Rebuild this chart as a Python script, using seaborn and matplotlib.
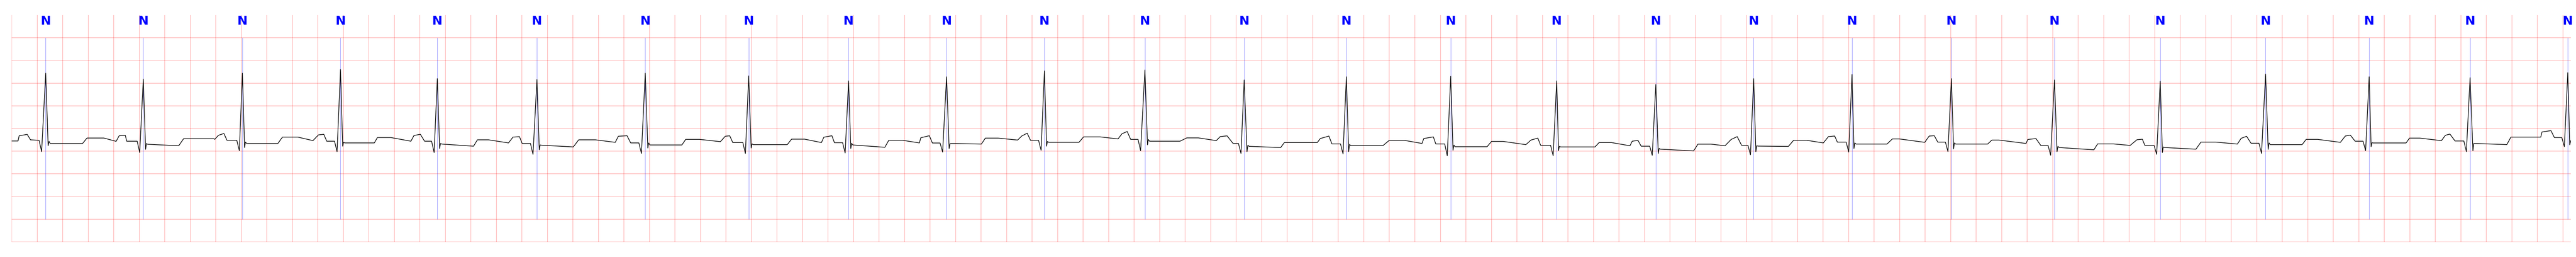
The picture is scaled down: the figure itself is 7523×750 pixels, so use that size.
import numpy as np
import pandas as pd
import matplotlib
matplotlib.use("Agg")
import matplotlib.pyplot as plt
import seaborn as sns

# ==============================
# DATA  (time in s, amplitude in mV)
# ==============================
beat_label = ["N"] * 26

r_time = [0.267, 1.032, 1.809, 2.578, 3.337, 4.118, 4.967, 5.778, 6.561, 7.329,
          8.096, 8.884, 9.662, 10.463, 11.281, 12.112, 12.889, 13.656, 14.427,
          15.206, 16.014, 16.843, 17.669, 18.481, 19.272, 20.038]
r_amp = [1.22, 1.09, 1.22, 1.30, 1.10, 1.08, 1.22, 1.16, 1.05, 1.14, 1.27, 1.29, 1.07,
         1.14, 1.15, 1.05, 0.97, 1.10, 1.19, 1.10, 1.07, 1.04, 1.20, 1.14, 1.12, 1.23]
q_time = [0.235, 1.004, 1.785, 2.551, 3.312, 4.087, 4.937, 5.752, 6.534, 7.298,
          8.070, 8.850, 9.637, 10.437, 11.254, 12.084, 12.861, 13.631, 14.401,
          15.179, 15.984, 16.815, 17.637, 18.453, 19.243, 20.011]
q_amp = [-0.51, -0.53, -0.49, -0.51, -0.53, -0.57, -0.55, -0.55, -0.54, -0.52, -0.48,
         -0.49, -0.55, -0.56, -0.60, -0.60, -0.59, -0.58, -0.52, -0.51, -0.59, -0.57,
         -0.55, -0.49, -0.51, -0.40]
s_time = [0.286, 1.050, 1.826, 2.595, 3.355, 4.136, 4.987, 5.797, 6.578, 7.349,
          8.113, 8.904, 9.684, 10.481, 11.299, 12.126, 12.908, 13.673, 14.442,
          15.223, 16.034, 16.860, 17.689, 18.496, 19.294, 20.053]
s_amp = [-0.38, -0.46, -0.42, -0.39, -0.44, -0.47, -0.43, -0.43, -0.44, -0.44, -0.39,
         -0.36, -0.51, -0.51, -0.48, -0.49, -0.55, -0.51, -0.44, -0.45, -0.51, -0.53,
         -0.46, -0.40, -0.49, -0.36]

# segment between beat i and beat i+1
j_amp = [-0.283, -0.33, -0.298, -0.30, -0.33, -0.363, -0.318, -0.338, -0.325, -0.338,
         -0.285, -0.242, -0.368, -0.348, -0.366, -0.393, -0.439, -0.381, -0.318, -0.318,
         -0.393, -0.406, -0.318, -0.312, -0.33]
st_amp = [-0.33, -0.348, -0.33, -0.318, -0.343, -0.368, -0.363, -0.356, -0.363, -0.33,
          -0.305, -0.28, -0.393, -0.377, -0.402, -0.406, -0.456, -0.388, -0.343, -0.343,
          -0.419, -0.419, -0.356, -0.319, -0.33]
st_end_amp = [-0.33, -0.38, -0.33, -0.318, -0.39, -0.406, -0.363, -0.356, -0.414, -0.343,
              -0.305, -0.28, -0.42, -0.377, -0.402, -0.406, -0.494, -0.395, -0.343, -0.343,
              -0.47, -0.456, -0.356, -0.319, -0.355]
t_on = [0.556, 1.310, 2.087, 2.843, 3.621, 4.403, 5.254, 6.080, 6.845, 7.602, 8.367,
        9.159, 9.948, 10.750, 11.566, 12.412, 13.185, 13.928, 14.701, 15.490, 16.323,
        17.123, 17.955, 18.770, 19.560]
t_top = [0.591, 1.348, 2.123, 2.867, 3.651, 4.445, 5.284, 6.114, 6.876, 7.633, 8.403,
         9.212, 9.977, 10.799, 11.601, 12.444, 13.219, 13.969, 14.743, 15.523, 16.352,
         17.162, 17.987, 18.797, 19.592]
t_end = [0.722, 1.586, 2.244, 2.974, 3.739, 4.577, 5.393, 6.216, 6.984, 7.733, 8.533,
         9.303, 10.211, 10.919, 11.693, 12.541, 13.322, 14.071, 14.798, 15.579, 16.476,
         17.279, 18.078, 18.878, 19.793]
t_amp = [-0.21, -0.225, -0.19, -0.20, -0.25, -0.25, -0.24, -0.235, -0.26, -0.212, -0.185,
         -0.207, -0.31, -0.262, -0.285, -0.31, -0.345, -0.26, -0.23, -0.255, -0.34, -0.30,
         -0.24, -0.212, -0.19]
p_on = [0.819, 1.592, 2.362, 3.130, 3.895, 4.732, 5.556, 6.348, 7.116, 7.886, 8.673,
        9.443, 10.235, 11.056, 11.870, 12.686, 13.431, 14.202, 14.997, 15.791, 16.607,
        17.448, 18.255, 19.047, 19.826]
p_base_amp = [-0.283, -0.24, -0.267, -0.28, -0.318, -0.305, -0.29, -0.31, -0.318, -0.255,
              -0.23, -0.267, -0.31, -0.33, -0.356, -0.381, -0.381, -0.318, -0.305, -0.33,
              -0.373, -0.343, -0.305, -0.268, -0.19]
p_top = [0.843, 1.621, 2.405, 3.154, 3.930, 4.756, 5.594, 6.367, 7.127, 7.918, 8.704,
         9.474, 10.259, 11.070, 11.910, 12.704, 13.479, 14.242, 15.032, 15.805, 16.661,
         17.477, 18.294, 19.079, 19.836]
p_top_amp = [-0.16, -0.15, -0.141, -0.154, -0.19, -0.171, -0.171, -0.192, -0.204, -0.166,
             -0.116, -0.179, -0.221, -0.221, -0.255, -0.28, -0.242, -0.179, -0.166, -0.242,
             -0.247, -0.217, -0.166, -0.149, -0.076]
p_peak = [0.891, 1.664, 2.447, 3.204, 3.981, 4.824, 5.629, 6.430, 7.194, 7.961, 8.745,
          9.528, 10.326, 11.145, 11.964, 12.749, 13.527, 14.291, 15.072, 15.869, 16.703,
          17.520, 18.333, 19.114, 19.906]
p_amp = [-0.15, -0.11, -0.128, -0.128, -0.18, -0.159, -0.16, -0.159, -0.159, -0.103,
         -0.066, -0.162, -0.167, -0.185, -0.212, -0.262, -0.179, -0.166, -0.159, -0.222,
         -0.237, -0.172, -0.146, -0.123, -0.047]
p_off = [0.902, 1.688, 2.470, 3.237, 4.002, 4.853, 5.653, 6.450, 7.218, 7.987, 8.772,
         9.575, 10.350, 11.164, 11.986, 12.774, 13.561, 14.312, 15.099, 15.907, 16.723,
         17.555, 18.371, 19.154, 19.933]
pr_amp = [-0.28, -0.26, -0.28, -0.28, -0.33, -0.318, -0.31, -0.313, -0.32, -0.26, -0.24,
          -0.33, -0.34, -0.341, -0.37, -0.39, -0.37, -0.30, -0.30, -0.375, -0.375, -0.325,
          -0.28, -0.275, -0.20]

# start and end of the strip
lead_time = [0.0, 0.050, 0.059, 0.122, 0.148]
lead_amp = [-0.275, -0.275, -0.16, -0.13, -0.25]
lead_pr = -0.26
tail_time = [20.062]
tail_amp = [-0.26]

# ==============================
# BUILD TRACE VERTICES
# ==============================
pts = list(zip(lead_time, lead_amp))
pr_prev = lead_pr
for i in range(len(r_time)):
    pts += [(q_time[i] - 0.02, pr_prev), (q_time[i], q_amp[i]),
            (r_time[i], r_amp[i]), (s_time[i], s_amp[i])]
    if i < len(j_amp):
        pts += [(s_time[i] + 0.007, j_amp[i]), (s_time[i] + 0.016, st_amp[i]),
                (t_on[i], st_end_amp[i]), (t_top[i], t_amp[i]), (t_end[i], t_amp[i]),
                (p_on[i], p_base_amp[i]), (p_top[i], p_top_amp[i]),
                (p_peak[i], p_amp[i]), (p_off[i], pr_amp[i])]
        pr_prev = pr_amp[i]
pts += list(zip(tail_time, tail_amp))
ecg = pd.DataFrame(pts, columns=["time", "mV"])

# ==============================
# PLOT
# ==============================
sns.set_style("white")
fig, ax = plt.subplots(figsize=(75.23, 7.5), dpi=100)
fig.subplots_adjust(left=34 / 7523, right=7508 / 7523, bottom=44 / 750, top=1 - 44 / 750)

sns.lineplot(data=ecg, x="time", y="mV", ax=ax, color="black", linewidth=1.4,
             estimator=None, sort=False, zorder=3)

ax.vlines(r_time, -2.0, 2.0, color="blue", linewidth=0.8, alpha=0.5, zorder=2)
for t, lab in zip(r_time, beat_label):
    ax.text(t, 2.29, lab, color="blue", fontsize=26, fontweight="bold",
            ha="center", va="baseline", zorder=4)

ax.set_xlim(0, 20.062)
ax.set_ylim(-2.5, 2.5)
ax.set_xticks(np.arange(0, 20.01, 0.2))
ax.set_yticks(np.arange(-2.5, 2.01, 0.5))
ax.grid(True, color="red", alpha=0.3, linewidth=1.2, zorder=0)
ax.set_axisbelow(True)
ax.tick_params(length=0, labelbottom=False, labelleft=False)
ax.set_xlabel("")
ax.set_ylabel("")
for sp in ax.spines.values():
    sp.set_visible(False)

fig.savefig("out.png", dpi=100)
